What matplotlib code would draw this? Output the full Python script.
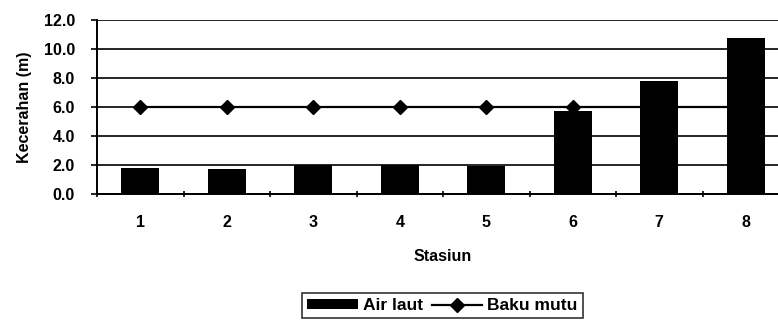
import matplotlib.pyplot as plt
import numpy as np

plt.rcParams['font.family'] = ['Liberation Sans', 'DejaVu Sans']
plt.rcParams['font.weight'] = 'bold'
plt.rcParams['axes.labelweight'] = 'bold'

stasiun = ['1', '2', '3', '4', '5', '6', '7', '8']
air_laut = [1.8, 1.7, 2.0, 2.0, 1.9, 5.7, 7.8, 10.75]
baku_mutu = [6.0, 6.0, 6.0, 6.0, 6.0, 6.0, 6.0, 6.0]

FS = 11.5

fig = plt.figure(figsize=(7.78, 3.24), dpi=100)
W, H = 778, 324
# axes box in pixels: left 97, right 789 (runs past the edge), top 20, bottom 194
ax = fig.add_axes([97 / W, 1 - 194 / H, (789 - 97) / W, (194 - 20) / H])

x = np.arange(len(stasiun))
bars = ax.bar(x, air_laut, width=0.44, color='black', zorder=2, label='Air laut')
line, = ax.plot(x, baku_mutu, color='black', lw=1.6, marker='D', ms=7, zorder=3,
                label='Baku mutu')

ax.set_xlim(-0.5, len(stasiun) - 0.5)
ax.set_ylim(0, 12)
ax.set_yticks(np.arange(0, 12.1, 2))
ax.set_yticklabels([f'{v:.1f}' for v in np.arange(0, 12.1, 2)])
ax.yaxis.grid(True, color='black', lw=1.2, zorder=0)
ax.set_axisbelow(True)

# categories labelled at centres, tick marks at boundaries
ax.set_xticks(x)
ax.set_xticklabels(stasiun)
ax.tick_params(axis='x', length=0, pad=15)
ax.set_xticks(np.arange(-0.5, len(stasiun), 1), minor=True)
ax.tick_params(axis='x', which='minor', length=5, width=1.2, direction='inout')
ax.tick_params(axis='y', length=4, width=1.2, direction='out', pad=12)
ax.tick_params(labelsize=FS)

for s in ['top', 'right']:
    ax.spines[s].set_visible(False)
for s in ['left', 'bottom']:
    ax.spines[s].set_linewidth(1.4)

ax.set_xlabel('Stasiun', fontsize=FS, labelpad=14)
ax.set_ylabel('Kecerahan (m)', fontsize=FS, labelpad=8)

leg = fig.legend([bars, line], ['Air laut', 'Baku mutu'],
                 loc='upper left', bbox_to_anchor=(302 / W, 1 - 293 / H),
                 ncol=2, frameon=True, fancybox=False, edgecolor='black',
                 fontsize=12.5, handlelength=2.9, handleheight=0.45,
                 columnspacing=0.5, handletextpad=0.3, borderpad=0.3,
                 borderaxespad=0)
leg.get_frame().set_linewidth(1.2)

fig.savefig('out.png', dpi=100)
